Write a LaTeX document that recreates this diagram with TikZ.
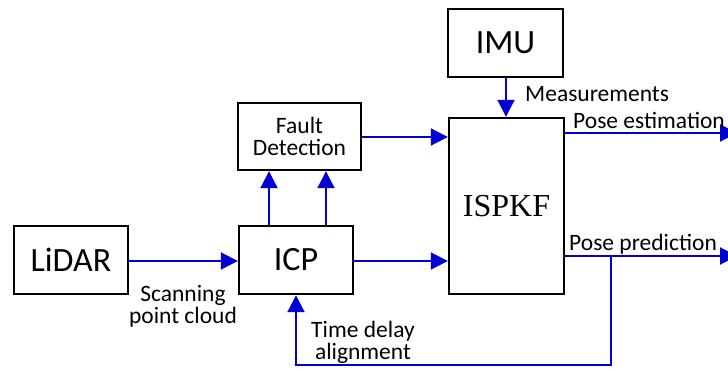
\documentclass[tikz,border=0pt]{standalone}
\usepackage{fontspec}
\setmainfont{Carlito}
\newfontfamily\timesf{Liberation Serif}
\usetikzlibrary{arrows.meta}
\definecolor{lineblue}{RGB}{0,0,210}
\tikzset{
  blk/.style={draw=black, line width=2.4pt, inner sep=0pt},
  conn/.style={draw=lineblue, line width=2pt, -{Triangle[length=17pt,width=17pt]}},
  bigtxt/.style={font=\fontsize{34}{36}\selectfont},
  smalltxt/.style={font=\fontsize{23.5}{22}\selectfont, inner sep=0pt},
}
\begin{document}
\begin{tikzpicture}[x=1pt,y=-1pt]
\useasboundingbox (0,0) rectangle (728,369);
\clip (0,0) rectangle (728,369);
\node[blk, bigtxt, minimum width=114pt, minimum height=68pt] (lidar) at (71,260) {LiDAR};
\node[blk, bigtxt, minimum width=114pt, minimum height=68pt] (icp) at (296,260) {ICP};
\node[blk, smalltxt, align=center, minimum width=123pt, minimum height=67pt] (fault) at (299.5,136.5) {Fault\\Detection};
\node[blk, bigtxt, minimum width=115pt, minimum height=68pt] (imu) at (505.5,43) {IMU};
\node[blk, font=\timesf\fontsize{32}{34}\selectfont, minimum width=115pt, minimum height=176pt] (kf) at (506.5,206) {ISPKF};

\draw[conn] (lidar.east |- 0,261) -- (icp.west |- 0,261);
\draw[conn] (icp.east |- 0,261) -- (kf.west |- 0,261);
\draw[conn] (fault.east |- 0,137) -- (kf.west |- 0,137);
\draw[conn] (imu.south -| 506,0) -- (kf.north -| 506,0);
\draw[conn] (icp.north -| 269,0) -- (fault.south -| 269,0);
\draw[conn] (icp.north -| 326,0) -- (fault.south -| 326,0);
\coordinate (estout) at (737,133);
\coordinate (predout) at (737,256);
\coordinate (branch) at (611,256);
\coordinate (fb1) at (611,365);
\coordinate (fb2) at (296,365);
\draw[conn] (kf.east |- estout) -- (estout);
\draw[conn] (kf.east |- predout) -- (predout);
\draw[conn] (branch) -- (fb1) -- (fb2) -- (icp.south);

\node[smalltxt, align=center] (lbl1) at (183,306) {Scanning\\point cloud};
\node[smalltxt, align=center] (lbl2) at (363,342) {Time delay\\alignment};
\node[smalltxt, anchor=base west] (lbl3) at (525,101) {Measurements};
\node[smalltxt, anchor=base west] (lbl4) at (573,128) {Pose estimation};
\node[smalltxt, anchor=base west] (lbl5) at (569,250) {Pose prediction};
\end{tikzpicture}
\end{document}
